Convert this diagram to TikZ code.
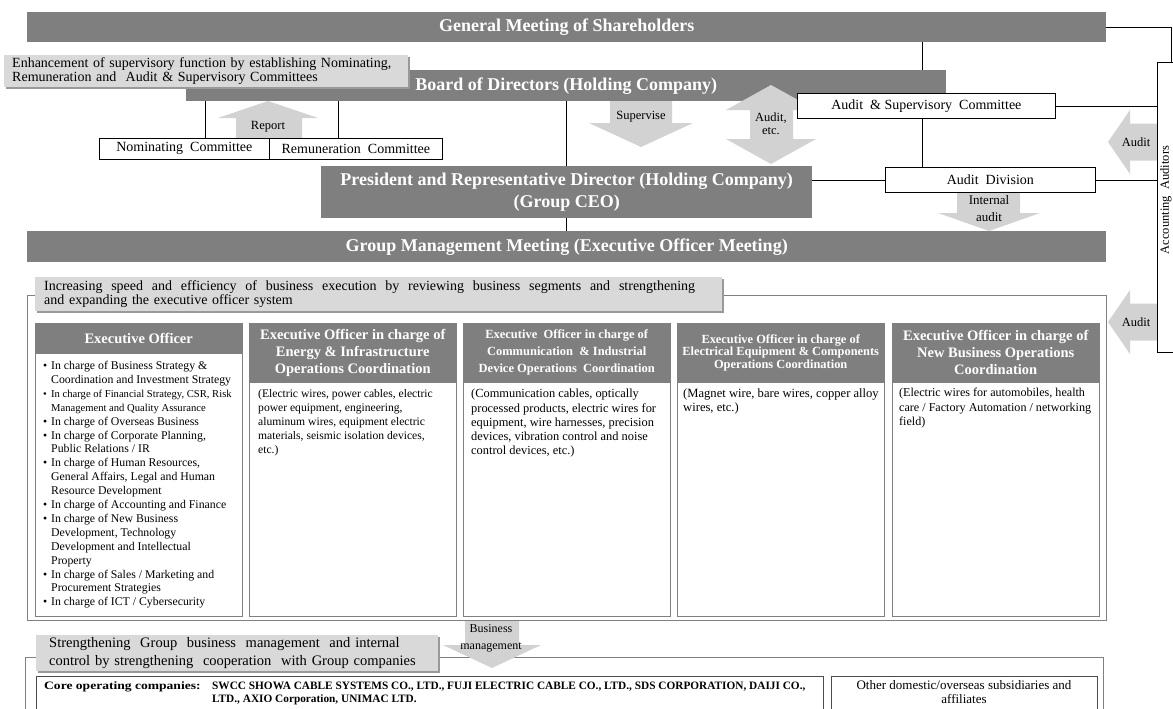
\documentclass[tikz,border=0pt]{standalone}
\usepackage{fontspec}
\setmainfont{Liberation Serif}
\usetikzlibrary{shadows}
\definecolor{bargray}{RGB}{127,127,127}
\definecolor{notegray}{RGB}{217,217,217}
\definecolor{arwgray}{RGB}{210,210,210}
\definecolor{linegray}{RGB}{128,128,128}
\newcommand{\fsz}[2]{\fontsize{#1}{#2}\selectfont}
\newcommand{\bul}{\makebox[8pt][l]{\textbullet}}
\newcommand{\bulc}{\hspace*{8pt}}
\tikzset{
 bar/.style={fill=bargray, text=white, font=\bfseries\fsz{18}{22}, inner sep=0pt, anchor=north west},
 wbox/.style={draw=black, line width=0.7pt, fill=white, inner sep=0pt, anchor=north west, font=\fsz{14}{16}},
 note/.style={fill=notegray, inner ysep=0pt, anchor=north west, align=left,
   drop shadow={shadow xshift=1.5pt, shadow yshift=-1.5pt, fill=black!40, opacity=1}},
 arw/.style={fill=arwgray},
 lbl/.style={inner sep=0pt, align=center, font=\fsz{12.5}{13}},
 frame/.style={draw=linegray, anchor=north west, inner sep=0pt},
 colbox/.style={draw=linegray, fill=white, anchor=north west, inner sep=0pt, minimum width=207pt, minimum height=293pt},
 colhead/.style={draw=linegray, fill=bargray, anchor=north west, inner sep=0pt, minimum width=207pt},
 headtext/.style={text=white, align=center, inner sep=0pt, font=\bfseries\fsz{14.5}{17}},
 coltext/.style={anchor=north west, inner sep=0pt, align=left, font=\fsz{11.6}{14}},
}
\begin{document}
\begin{tikzpicture}[x=1pt,y=-1pt]
\useasboundingbox (0,0) rectangle (1173,709);
\coordinate (spine) at (922,0);
\coordinate (nomline) at (205,0);
\coordinate (remline) at (338,0);
%% holding company levels
\node[bar, minimum width=1079pt, minimum height=30pt] (gms) at (27,12) {General Meeting of Shareholders};
\node[bar, minimum width=760pt, minimum height=31pt] (board) at (186,70) {Board of Directors (Holding Company)};
\node[bar, minimum width=491pt, minimum height=52pt, align=center] (pres) at (321,166) {President and Representative Director (Holding Company)\\(Group CEO)};
\node[bar, minimum width=1079pt, minimum height=31pt] (gmm) at (27,231) {Group Management Meeting (Executive Officer Meeting)};
%% block arrows
\fill[arw] (236,138) -- (236,118) -- (218,118) -- (268,101) -- (318,118) -- (302,118) -- (302,138) -- cycle;
\fill[arw] (610,101) -- (672,101) -- (672,123) -- (693,123) -- (641,147) -- (589,123) -- (610,123) -- cycle;
\fill[arw] (771,85) -- (816,110) -- (793,110) -- (793,139) -- (816,139) -- (771,164) -- (726,139) -- (750,139) -- (750,110) -- (726,110) -- cycle;
\fill[arw] (957,192) -- (1020,192) -- (1020,213) -- (1040,213) -- (989,231) -- (938,213) -- (957,213) -- cycle;
\foreach \ay in {142,322} {\fill[arw] (1108,\ay) -- (1130,\ay-32) -- (1130,\ay-18.5) -- (1157,\ay-18.5) -- (1157,\ay+18.5) -- (1130,\ay+18.5) -- (1130,\ay+32) -- cycle;}
%% committees and audit
\node[wbox, minimum width=170pt, minimum height=21pt] (nom) at (99,138) {Nominating\ \ Committee};
\node[wbox, minimum width=173pt, minimum height=21pt] (rem) at (269,138) {Remuneration\ \ Committee};
\node[wbox, minimum width=258pt, minimum height=25pt] (asc) at (797,93) {Audit\ \ \& Supervisory\ \ Committee};
\node[wbox, minimum width=210pt, minimum height=25pt] (auddiv) at (885,167) {Audit\ \ Division};
\node[wbox, minimum width=28pt, minimum height=290pt] (acc) at (1157,62) {};
\node[rotate=90, inner sep=0pt, font=\fsz{12.5}{15}] (acctxt) at (1165.8,200) {Accounting\ \ Auditors};
%% connectors
\draw[line width=0.7pt] (gms.east) -| (acc.north);
\draw[line width=0.7pt] (gms.south -| spine) -- (board.north -| spine);
\draw[line width=0.7pt] (board.south -| nomline) -- (nom.north -| nomline);
\draw[line width=0.7pt] (board.south -| remline) -- (rem.north -| remline);
\draw[line width=0.7pt] (board.south -| pres.north) -- (pres.north);
\draw[line width=0.7pt] (asc.south -| spine) -- (auddiv.north -| spine);
\draw[line width=0.7pt] (asc.east) -- (asc.east -| acc.west);
\draw[line width=0.7pt] (pres.east |- auddiv.west) -- (auddiv.west);
\draw[line width=0.7pt] (auddiv.east) -- (auddiv.east -| acc.west);
\draw[line width=0.7pt] (pres.south) -- (gmm.north);
%% arrow labels
\node[lbl] (reportlbl) at (268,127) {Report};
\node[lbl] (supervlbl) at (641,117) {Supervise};
\node[lbl] (auditetc) at (771,124) {Audit,\\etc.};
\node[lbl, font=\fsz{13}{17}] (intlbl) at (989,209) {Internal\\audit};
\node[lbl] (audit1) at (1136,142) {Audit};
\node[lbl] (audit2) at (1136,322) {Audit};
\node[note, minimum height=32pt, inner xsep=8pt, text width=388pt, font=\fsz{14}{14}] (note1) at (4,55)
 {Enhancement of supervisory function by establishing Nominating,\\Remuneration and\ \ Audit \& Supervisory Committees};
%% execution
\node[frame, minimum width=1079pt, minimum height=325pt] (execframe) at (27,295) {};
\node[note, minimum height=34pt, inner xsep=9pt, text width=669pt, font=\fsz{14}{14}] (note2) at (35,277)
 {\makebox[651pt][s]{\spaceskip=3.5pt plus 1fil\relax Increasing speed and efficiency of business execution by reviewing business segments and strengthening}\\and expanding the executive officer system};
\foreach \cx/\ch/\n in {35/30/1,249/59/2,463/59/3,677/59/4,892/59/5}{
  \node[colbox] (col\n) at (\cx,323) {};
  \node[colhead, minimum height=\ch] (head\n) at (\cx,323) {};
}
\node[headtext] (h1txt) at (head1) {Executive Officer};
\node[headtext] (h2txt) at (head2) {Executive Officer in charge of\\Energy \& Infrastructure\\Operations Coordination};
\node[headtext, font=\bfseries\fsz{12.5}{17}] (h3txt) at (head3) {Executive\ \ Officer in charge of\\Communication\ \ \& Industrial\\Device Operations\ \ Coordination};
\node[headtext, font=\bfseries\fsz{12.4}{12.3}] (h4txt) at (head4) {Executive Officer in charge of\\Electrical Equipment \& Components\\Operations Coordination};
\node[headtext] (h5txt) at (head5) {Executive Officer in charge of\\New Business Operations\\Coordination};
\node[coltext, font=\fsz{11.8}{13.9}] (c1txt) at (43,361)
 {\bul In charge of Business Strategy \&\\
  \bulc Coordination and Investment Strategy\\
  {\fsz{10.6}{13.9}\bul In charge of Financial Strategy, CSR, Risk}\\
  \bulc{\fsz{10.6}{13.9}Management and Quality Assurance}\\
  \bul In charge of Overseas Business\\
  \bul In charge of Corporate Planning,\\
  \bulc Public Relations / IR\\
  \bul In charge of Human Resources,\\
  \bulc General Affairs, Legal and Human\\
  \bulc Resource Development\\
  \bul In charge of Accounting and Finance\\
  \bul In charge of New Business\\
  \bulc Development, Technology\\
  \bulc Development and Intellectual\\
  \bulc Property\\
  \bul In charge of Sales / Marketing and\\
  \bulc Procurement Strategies\\
  \bul In charge of ICT / Cybersecurity};
\node[coltext] (c2txt) at (258,389) {(Electric wires, power cables, electric\\power equipment, engineering,\\aluminum wires, equipment electric\\materials, seismic isolation devices,\\etc.)};
\node[coltext, font=\fsz{12.4}{14.2}] (c3txt) at (471,389) {(Communication cables, optically\\processed products, electric wires for\\equipment, wire harnesses, precision\\devices, vibration control and noise\\control devices, etc.)};
\node[coltext, font=\fsz{12.6}{14}] (c4txt) at (683,389) {(Magnet wire, bare wires, copper alloy\\wires, etc.)};
\node[coltext, font=\fsz{12.1}{14.5}] (c5txt) at (899,388) {(Electric wires for automobiles, health\\care / Factory Automation / networking\\field)};
%% group companies
\node[frame, minimum width=1078pt, minimum height=70pt] (grpframe) at (25,657) {};
\fill[arw] (465,621) -- (519,621) -- (519,645) -- (541,645) -- (492,668) -- (443,645) -- (465,645) -- cycle;
\node[lbl, font=\fsz{12}{17}] (bizlbl) at (491,638) {Business\\management};
\node[note, minimum height=36pt, inner xsep=13pt, text width=376pt, font=\fsz{14.5}{18}] (note3) at (36,635)
 {Strengthening\ \ Group\ \ business\ \ management\ \ and internal\\control by strengthening\ \ cooperation\ \ with Group companies};
\node[frame, draw=black!70, minimum width=787pt, minimum height=50pt] (corebox) at (36,676) {};
\node[frame, draw=black!70, minimum width=266pt, minimum height=50pt] (otherbox) at (831,676) {};
\node[anchor=north west, inner sep=0pt, font=\bfseries\fsz{11.3}{13}, align=left] (core) at (44,681)
 {\makebox[168pt][l]{\scalebox{1.2}[1]{Core operating companies:}}SWCC SHOWA CABLE SYSTEMS CO., LTD., FUJI ELECTRIC CABLE CO., LTD., SDS CORPORATION, DAIJI CO.,\\
  \hspace*{168pt}LTD., AXIO Corporation, UNIMAC LTD.};
\node[anchor=north, inner sep=0pt, font=\fsz{13}{14}, align=center] (other) at (964,680) {Other domestic/overseas subsidiaries and\\affiliates};
\end{tikzpicture}
\end{document}
